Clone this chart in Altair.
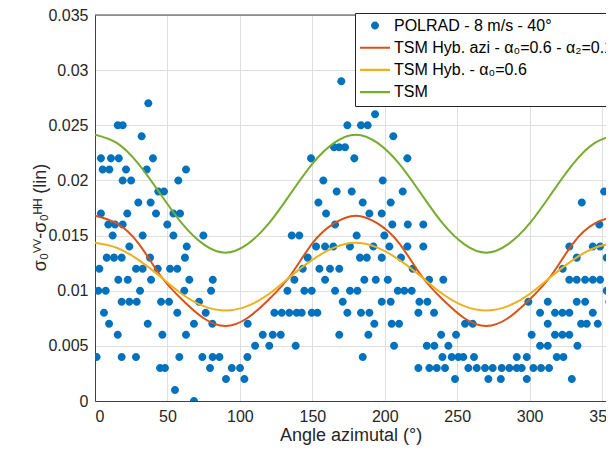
import altair as alt
import pandas as pd

# ---------------- data ----------------
polrad_azimuth = [
    1.1, 2.3, 3.0, 4.1, 5.3, 4.1, 6.2, 7.4, 8.1, 9.2, 9.7, 9.9, 11.0, 12.2, 13.1, 13.8, 15.7, 15.7, 16.1, 16.4,
    18.4, 18.4, 18.4, 19.1, 19.1, 19.1, 21.4, 22.3, 22.6, 23.7, 23.7, 24.9, 28.3, 28.3, 28.8, 29.9, 31.1, 32.2,
    32.9, 32.9, 35.7, 36.8, 36.4, 38.0, 38.4, 38.7, 40.0, 42.1, 43.3, 43.7, 44.9, 45.6, 46.5, 47.6, 48.3, 49.9,
    51.1, 51.8, 54.1, 54.1, 55.2, 56.8, 56.8, 57.5, 58.2, 58.7, 61.6, 62.1, 62.8, 62.8, 63.3, 65.1, 68.3, 68.3,
    71.8, 74.1, 74.8, 76.4, 79.4, 80.1, 81.0, 81.2, 81.3, 85.9, 90.4,
    94.4, 100.1, 103.1, 105.2, 105.4, 110.5, 115.8, 120.3, 122.7, 123.8, 128.2, 128.9, 132.8, 134.1, 135.8,
    137.6, 138.5, 139.2, 141.0, 142.7, 143.4, 144.5, 146.8, 149.1, 149.6, 149.6, 152.6, 153.5, 154.2, 154.9,
    157.6, 158.8, 158.8, 159.5, 162.2, 164.5, 165.0, 165.7, 165.7, 166.8, 168.5, 168.6, 168.6, 170.0, 171.0,
    172.6, 174.2, 174.2, 176.0, 176.0, 177.2, 179.0,
    180.6, 181.1, 182.9, 183.6, 183.6, 184.8, 184.8, 185.9, 187.6, 188.2, 188.7, 189.4, 189.4, 192.1, 192.8,
    193.3, 193.8, 197.9, 197.9, 197.9, 198.6, 199.7, 202.1, 203.2, 204.1, 204.1, 204.8, 205.2, 205.9, 206.4,
    209.0, 209.9, 211.2, 212.4, 213.5, 215.6, 215.6, 215.9, 218.6, 219.3, 223.2, 223.2, 223.9, 226.6, 226.6,
    229.0, 229.4, 230.6, 230.8, 234.0, 234.2, 235.9, 238.9, 239.8, 240.4, 241.6, 243.9, 246.2, 248.5, 249.2,
    250.8, 254.2, 255.4, 257.7, 260.7, 261.6, 263.5,
    269.2, 271.5, 274.5, 280.1, 280.7, 286.0, 291.1, 291.1, 294.5, 298.0, 298.0, 299.1, 301.4, 302.6, 307.2,
    307.2, 307.9, 312.5, 312.5, 312.5, 313.4, 317.5, 317.5, 318.7, 322.6, 322.6, 322.8, 323.3, 327.4, 327.4,
    327.4, 327.4, 329.1, 332.5, 332.5, 332.5, 333.0, 335.5, 336.0, 338.3, 338.3, 339.4, 343.6, 343.6, 343.6,
    347.0, 348.1, 348.6, 348.6, 351.4, 353.2, 353.2, 355.0, 356.0, 356.7,
]
polrad_value = [
    0.004, 0.010, 0.012, 0.022, 0.021, 0.017, 0.008, 0.010, 0.013, 0.016, 0.007, 0.021, 0.022, 0.015, 0.013, 0.016, 0.025, 0.006, 0.011, 0.022,
    0.013, 0.009, 0.004, 0.025, 0.020, 0.016, 0.021, 0.017, 0.011, 0.014, 0.009, 0.020, 0.012, 0.004, 0.009, 0.018, 0.010, 0.024,
    0.015, 0.012, 0.021, 0.027, 0.007, 0.013, 0.018, 0.011, 0.022, 0.017, 0.012, 0.019, 0.003, 0.009, 0.006, 0.019, 0.003, 0.016,
    0.009, 0.012, 0.017, 0.015, 0.001, 0.012, 0.008, 0.020, 0.004, 0.017, 0.010, 0.013, 0.021, 0.006, 0.014, 0.011, 0.007, 0.000,
    0.009, 0.004, 0.015, 0.008, 0.003, 0.010, 0.007, 0.004, 0.011, 0.004, 0.002,
    0.003, 0.003, 0.002, 0.004, 0.007, 0.005, 0.006, 0.005, 0.006, 0.008, 0.006, 0.008, 0.010, 0.008, 0.015,
    0.011, 0.005, 0.008, 0.015, 0.008, 0.012, 0.010, 0.013, 0.022, 0.010, 0.008, 0.014, 0.008, 0.018, 0.012,
    0.020, 0.014, 0.011, 0.017, 0.012, 0.014, 0.023, 0.016, 0.010, 0.019, 0.023, 0.012, 0.006, 0.029, 0.009,
    0.023, 0.025, 0.008, 0.014, 0.010, 0.019, 0.022,
    0.015, 0.010, 0.013, 0.025, 0.008, 0.018, 0.004, 0.011, 0.013, 0.025, 0.006, 0.017, 0.008, 0.014, 0.007,
    0.026, 0.011, 0.017, 0.013, 0.009, 0.020, 0.015, 0.011, 0.014, 0.018, 0.009, 0.007, 0.016, 0.024, 0.005,
    0.010, 0.007, 0.013, 0.019, 0.010, 0.022, 0.014, 0.016, 0.010, 0.012, 0.008, 0.003, 0.009, 0.016, 0.014,
    0.005, 0.009, 0.011, 0.003, 0.008, 0.005, 0.003, 0.006, 0.004, 0.011, 0.003, 0.005, 0.004, 0.002, 0.006,
    0.004, 0.004, 0.007, 0.003, 0.007, 0.004, 0.003,
    0.003, 0.002, 0.003, 0.002, 0.003, 0.003, 0.004, 0.003, 0.003, 0.004, 0.002, 0.009, 0.006, 0.003, 0.008,
    0.005, 0.003, 0.009, 0.007, 0.005, 0.003, 0.008, 0.006, 0.004, 0.008, 0.006, 0.012, 0.004, 0.014, 0.011,
    0.008, 0.006, 0.002, 0.013, 0.011, 0.009, 0.005, 0.007, 0.018, 0.011, 0.009, 0.007, 0.014, 0.011, 0.008,
    0.007, 0.016, 0.014, 0.011, 0.019, 0.013, 0.010, 0.009, 0.018, 0.012,
]

curve_azimuth = [0, 15, 30, 45, 60, 75, 90, 105, 120, 135, 150, 165, 180,
                 195, 210, 225, 240, 255, 270, 285, 300, 315, 330, 345, 360]
tsm_hyb_azi = [0.0168, 0.0161, 0.0143, 0.0114, 0.0092, 0.0075, 0.0068, 0.0075, 0.0092, 0.0114, 0.0143, 0.0161, 0.0168,
               0.0161, 0.0143, 0.0114, 0.0092, 0.0075, 0.0068, 0.0075, 0.0092, 0.0114, 0.0143, 0.0161, 0.0168]
tsm_hyb = [0.01435, 0.0139, 0.0128, 0.0113, 0.0097, 0.0086, 0.0082, 0.0086, 0.0097, 0.0113, 0.0128, 0.0139, 0.01435,
           0.0139, 0.0128, 0.0113, 0.0097, 0.0086, 0.0082, 0.0086, 0.0097, 0.0113, 0.0128, 0.0139, 0.01435]
tsm = [0.02415, 0.0234, 0.0215, 0.0188, 0.0161, 0.0142, 0.01345, 0.0142, 0.0161, 0.0188, 0.0215, 0.0234, 0.02415,
       0.0234, 0.0215, 0.0188, 0.0161, 0.0142, 0.01345, 0.0142, 0.0161, 0.0188, 0.0215, 0.0234, 0.02415]

series_names = ["POLRAD - 8 m/s - 40°",
                "TSM Hyb. azi - α₀=0.6 - α₂=0.15",
                "TSM Hyb. - α₀=0.6",
                "TSM"]
series_colors = ["#0072BD", "#D95319", "#EDB120", "#77AC30"]
x_ticks = [0, 50, 100, 150, 200, 250, 300, 350]
y_ticks = [0, 0.005, 0.01, 0.015, 0.02, 0.025, 0.03, 0.035]

# ---------------- tables ----------------
pts = pd.DataFrame({"az": polrad_azimuth, "val": polrad_value, "series": series_names[0]})
curves = pd.concat([
    pd.DataFrame({"az": curve_azimuth, "val": tsm_hyb_azi, "series": series_names[1]}),
    pd.DataFrame({"az": curve_azimuth, "val": tsm_hyb, "series": series_names[2]}),
    pd.DataFrame({"az": curve_azimuth, "val": tsm, "series": series_names[3]}),
])

FONT = "Liberation Sans"
W, H = 511, 386
circle_path = "M0.267,0A0.267,0.267,0,1,1,-0.267,0A0.267,0.267,0,1,1,0.267,0Z"
line_path = "M-1,-0.07H1V0.07H-1Z"

legend = alt.Legend(
    title=None, orient="none", legendX=260, legendY=-2,
    fillColor="white", strokeColor="#262626", padding=5, rowPadding=5.2,
    symbolSize=900, clipHeight=15, labelFontSize=16, labelFont=FONT,
    labelColor="black", labelOffset=4, labelLimit=600, symbolStrokeWidth=0,
    symbolOpacity=1, cornerRadius=0,
)

xscale = alt.Scale(domain=[0, 352.7], nice=False, zero=False)
yscale = alt.Scale(domain=[0, 0.035], nice=False)
color_scale = alt.Scale(domain=series_names, range=series_colors)
shape_scale = alt.Scale(domain=series_names, range=[circle_path, line_path, line_path, line_path])

xaxis = alt.Axis(title="Angle azimutal (°)", values=x_ticks, format="d", grid=True,
                 gridColor="#dfdfdf", domainColor="#404040", ticks=False,
                 labelPadding=7, labelFontSize=16, labelFont=FONT, labelColor="#262626",
                 titleFontSize=18, titleFont=FONT, titleColor="#262626", titleFontWeight="normal",
                 titlePadding=2)
yaxis = alt.Axis(title="σ₀ⱽⱽ-σ₀ᴴᴴ (lin)", values=y_ticks, format=".3~f", grid=True,
                 gridColor="#dfdfdf", domainColor="#404040", ticks=False,
                 labelPadding=7, labelFontSize=16, labelFont=FONT, labelColor="#262626",
                 titleFontSize=18, titleFont=FONT, titleColor="#262626", titleFontWeight="normal",
                 titleAngle=270, titleX=-55, titleY=202, titleAlign="center", titleBaseline="middle")

points = alt.Chart(pts).mark_point(filled=True, size=900, opacity=1, clip=True).encode(
    x=alt.X("az:Q", scale=xscale, axis=xaxis),
    y=alt.Y("val:Q", scale=yscale, axis=yaxis),
    color=alt.Color("series:N", scale=color_scale, legend=legend),
    shape=alt.Shape("series:N", scale=shape_scale, legend=legend),
)

lines = alt.Chart(curves).mark_line(strokeWidth=2, interpolate="natural", clip=True).encode(
    x=alt.X("az:Q", scale=xscale, axis=xaxis),
    y=alt.Y("val:Q", scale=yscale, axis=yaxis),
    color=alt.Color("series:N", scale=color_scale, legend=legend),
    detail="series:N",
)

top_border = alt.Chart(pd.DataFrame({"v": [0.035]})).mark_rule(color="#404040", strokeWidth=1).encode(
    y=alt.Y("v:Q", scale=yscale, axis=yaxis),
    x=alt.value(0), x2=alt.value(W),
)

chart = alt.layer(points, lines, top_border).properties(
    width=W, height=H,
    autosize=alt.AutoSizeParams(type="none"),
    padding={"left": 87, "top": 7, "right": 0, "bottom": 45},
).configure_view(stroke=None).configure(background="white")

chart.save("out.html", embed_options={"renderer": "svg", "actions": False})
